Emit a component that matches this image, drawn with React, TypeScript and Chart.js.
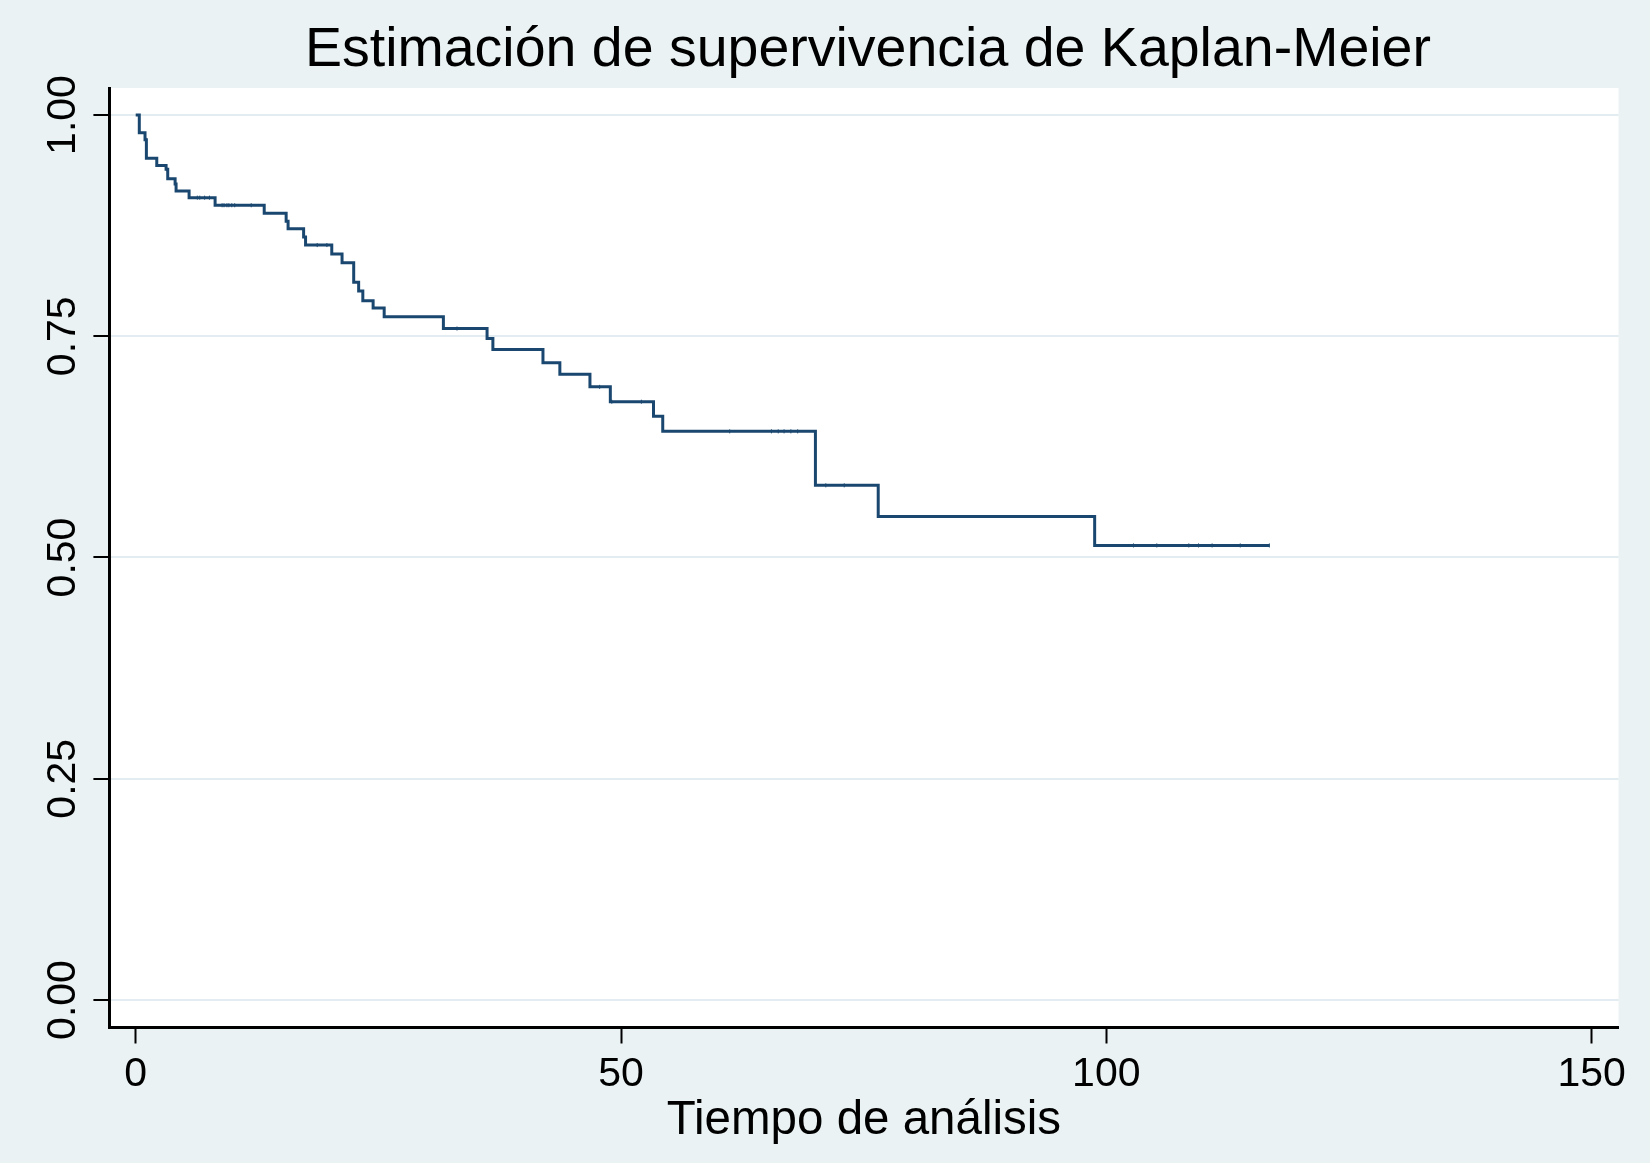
import React, { useEffect, useRef } from "react";
import { Chart, registerables } from "chart.js";

Chart.register(...registerables);

const TITLE = "Estimación de supervivencia de Kaplan-Meier";
const X_TITLE = "Tiempo de análisis";

// Kaplan-Meier step points: survival drops to survival[i] at eventTimes[i]
const eventTimes = [
  0, 0.37, 0.96, 1.1, 2.17, 3.13, 3.3, 4.06, 4.16, 5.5, 8.18, 13.24, 15.5, 15.7,
  17.3, 17.5, 20.2, 21.26, 22.46, 22.97, 23.4, 24.46, 25.6, 31.7, 36.2, 36.8,
  41.96, 43.7, 46.8, 48.9, 53.35, 54.3, 70.03, 76.5, 98.8, 116.8,
];
const survival = [
  1.0, 0.98, 0.972, 0.951, 0.943, 0.9386, 0.928, 0.922, 0.914, 0.9066, 0.898,
  0.889, 0.88, 0.8715, 0.862, 0.853, 0.843, 0.833, 0.811, 0.801, 0.79, 0.782,
  0.772, 0.7587, 0.7474, 0.735, 0.72, 0.707, 0.6928, 0.676, 0.6595, 0.6425,
  0.5815, 0.5464, 0.5136, 0.5136,
];
// censoring marks (times)
const censorTimes = [
  1.06, 3.2, 6.35, 6.6, 7.1, 7.6, 8.9, 9.1, 9.4, 9.6, 9.9, 10.2, 11.9, 18.7,
  19.7, 33.1, 47.8, 49.05, 52.1, 61.2, 65.5, 66.2, 66.8, 67.5, 68.2, 71.1, 73.0,
  102.8, 105.2, 108.5, 109.5, 110.9, 113.8, 116.8,
];

const xTicks = [0, 50, 100, 150];
const xTickLabels = ["0", "50", "100", "150"];
const yTicks = [0, 0.25, 0.5, 0.75, 1];
const yTickLabels = ["0.00", "0.25", "0.50", "0.75", "1.00"];

const LINE_COLOR = "#1a476f";
const BG = "#eaf2f3";
const GRID = "#e3ecf0";
const FONT = '"Liberation Sans", Arial, Helvetica, sans-serif';

function survivalAt(t: number): number {
  let s = survival[0];
  for (let i = 0; i < eventTimes.length; i++) {
    if (eventTimes[i] <= t) s = survival[i];
  }
  return s;
}

const decorPlugin = {
  id: "stataDecor",
  beforeDraw(chart: any) {
    const { ctx, chartArea, width, height } = chart;
    ctx.save();
    ctx.fillStyle = BG;
    ctx.fillRect(0, 0, width, height);
    ctx.fillStyle = "#ffffff";
    ctx.fillRect(
      chartArea.left,
      chartArea.top,
      chartArea.right - chartArea.left,
      chartArea.bottom - chartArea.top
    );
    ctx.restore();
  },
  afterDraw(chart: any) {
    const { ctx, chartArea } = chart;
    const xs = chart.scales.x;
    const ys = chart.scales.y;
    ctx.save();
    ctx.fillStyle = "#000";

    // Title
    ctx.font = `55.5px ${FONT}`;
    ctx.textAlign = "center";
    ctx.textBaseline = "alphabetic";
    ctx.fillText(TITLE, (chartArea.left + chartArea.right) / 2 + 4, 66);

    // X tick labels
    ctx.font = `41px ${FONT}`;
    xTicks.forEach((v, i) => {
      ctx.fillText(xTickLabels[i], xs.getPixelForValue(v), chartArea.bottom + 58);
    });

    // Y tick labels (rotated)
    yTicks.forEach((v, i) => {
      const py = ys.getPixelForValue(v);
      ctx.save();
      ctx.translate(chartArea.left - 34, py);
      ctx.rotate(-Math.PI / 2);
      ctx.textAlign = "center";
      ctx.textBaseline = "alphabetic";
      ctx.fillText(yTickLabels[i], 0, 0);
      ctx.restore();
    });

    // X axis title
    ctx.font = `47.5px ${FONT}`;
    ctx.textAlign = "center";
    ctx.fillText(X_TITLE, (chartArea.left + chartArea.right) / 2, chartArea.bottom + 106);
    ctx.restore();
  },
};

export default function App() {
  const canvasRef = useRef<HTMLCanvasElement | null>(null);

  useEffect(() => {
    if (!canvasRef.current) return;
    const kmData = eventTimes.map((t, i) => ({ x: t, y: survival[i] }));
    const censorData = censorTimes.map((t) => ({ x: t, y: survivalAt(t) }));

    const chart = new Chart(canvasRef.current, {
      type: "line",
      data: {
        datasets: [
          {
            label: "KM",
            data: kmData,
            borderColor: LINE_COLOR,
            borderWidth: 3,
            pointRadius: 0,
            stepped: "before",
            fill: false,
            tension: 0,
          },
          {
            label: "Censored",
            data: censorData,
            showLine: false,
            pointStyle: "line",
            rotation: 90,
            pointRadius: 2,
            pointBorderWidth: 1,
            pointBorderColor: LINE_COLOR,
            borderColor: LINE_COLOR,
            backgroundColor: LINE_COLOR,
          },
        ],
      },
      options: {
        responsive: false,
        animation: false,
        devicePixelRatio: 1,
        layout: {
          padding: { left: 93.4, top: 88, right: 31.5, bottom: 119.5 },
        },
        plugins: {
          legend: { display: false },
          tooltip: { enabled: false },
          title: { display: false },
        },
        scales: {
          x: {
            type: "linear",
            min: -2.71,
            max: 152.77,
            afterBuildTicks: (axis: any) => {
              axis.ticks = xTicks.map((v) => ({ value: v }));
            },
            ticks: { display: false },
            grid: {
              display: true,
              drawOnChartArea: false,
              drawTicks: true,
              tickLength: 16,
              tickColor: "#000",
              tickWidth: 2,
            },
            border: { display: true, color: "#000", width: 3 },
          },
          y: {
            type: "linear",
            min: -0.0311,
            max: 1.0305,
            afterBuildTicks: (axis: any) => {
              axis.ticks = yTicks.map((v) => ({ value: v }));
            },
            ticks: { display: false },
            grid: {
              display: true,
              drawOnChartArea: true,
              color: GRID,
              lineWidth: 2,
              drawTicks: true,
              tickLength: 16,
              tickColor: "#000",
              tickWidth: 2,
            },
            border: { display: true, color: "#000", width: 3 },
          },
        },
      } as any,
      plugins: [decorPlugin],
    });

    return () => chart.destroy();
  }, []);

  return (
    <div style={{ position: "absolute", left: 0, top: 0, width: 1650, height: 1163 }}>
      <canvas ref={canvasRef} width={1650} height={1163} />
    </div>
  );
}
